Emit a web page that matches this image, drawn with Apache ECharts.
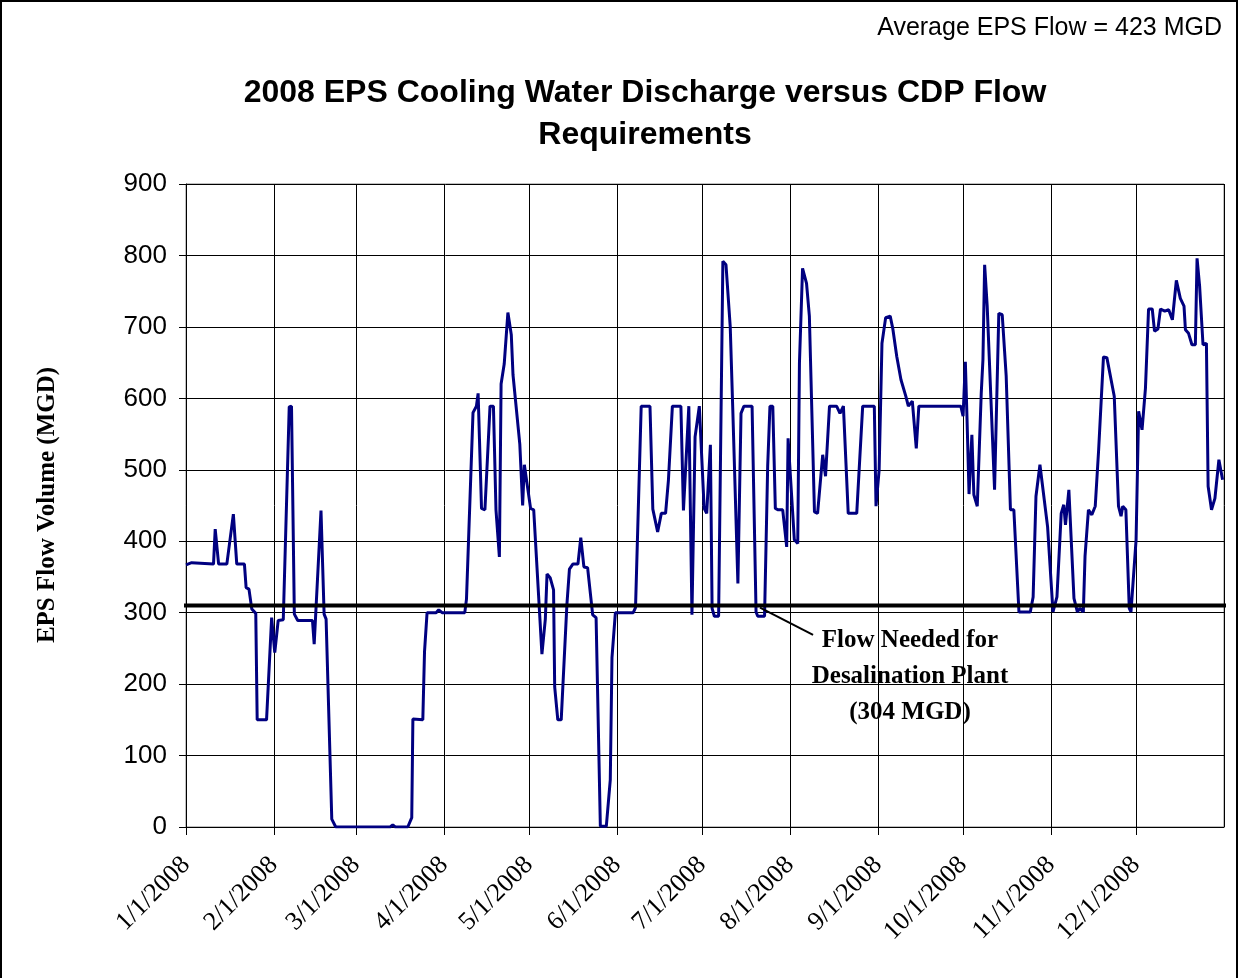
<!DOCTYPE html>
<html>
<head>
<meta charset="utf-8">
<script src="https://cdn.jsdelivr.net/npm/echarts@6/dist/echarts.min.js"></script>
<style>
  html, body { margin: 0; padding: 0; background: #fff; }
  #chart { position: absolute; left: 0; top: 0; width: 1238px; height: 978px; }
  #frame { position: absolute; left: 0; top: 0; width: 1238px; height: 978px; box-sizing: border-box;
           border: 2px solid #000; border-bottom: none; pointer-events: none; }
</style>
</head>
<body>
<div id="chart"></div>
<div id="frame"></div>
<script>
// day of year (0 = 1/1/2008) and EPS discharge in MGD
const flowDays = [
  0, 2, 9.7, 10.3, 11.5, 14.4, 16.7, 17.9, 20.6, 21.2, 22.2, 23.2, 24.6, 25.1, 28.4, 30.2,
  31.3, 32.5, 34.3, 36.4, 37.2, 38.2, 39.4, 44.6, 45.2, 47.6, 48.7, 49.4, 51.4, 52.8,
  72, 72.9, 73.8, 78.2, 79.6, 80, 83.5, 84.1, 85, 88.2, 89.1, 90.3,
  98.3, 98.9, 101.2, 102.4, 103, 104.2, 105.4, 107.2, 108.4, 109.3, 110.5, 111.1, 112.2,
  113.5, 114.7, 115.3, 117.7, 118.7, 119.3, 121.5, 122.6,
  125.5, 126.7, 127.3, 128.4, 129.6, 130, 131.1, 132.3, 134.3, 135.2, 136.4, 138.2, 139.2,
  140.3, 141.6, 143.4, 144.6, 146.1, 148.2, 149.6, 150.2, 151.4,
  157.7, 158.5, 160.5, 163.6, 164.6, 165.3, 166.3, 167.6, 169.1, 170.1, 171.5, 174.5, 175.4,
  177.3, 178.4, 179.5, 181,
  182.7, 183.6, 184.9, 185.5, 186.3, 187.8, 189.3, 190.4, 191.9, 192.8, 194.6, 195.7, 196.7,
  199.6, 201, 201.6, 204, 205.1, 205.9, 206.9, 207.8, 208.8, 210.4, 211.8, 212.3,
  214.5, 215.7, 216.3, 217.4, 218.8, 219.8, 221.6, 222.7, 224.5, 225.5, 226.9, 228, 229.4,
  230.6, 231.8, 233.5, 236.5, 238.6, 242.7, 243.3,
  244.4, 245.4, 246.7, 248.3, 249.2, 250.6, 252.1, 253.8, 254.7, 256.1, 257.5, 258.4, 273.2,
  274, 274.8, 275.4, 276.1, 277.1, 277.8, 279, 280.4, 281, 281.6, 282.5, 285.1, 286.6, 287.8,
  289.2, 290.7, 291.9, 293.7, 297.7, 298.7, 299.7, 301.1, 301.7, 303.8,
  305.7, 307.1, 308.6, 309.5, 310.1, 311.3, 313.1, 314.3, 315.2, 316.4, 317, 318.2, 319.4,
  320.6, 321.8, 323.5, 324.7, 327.3, 328.8, 329.7, 330.3, 331.4, 332.6, 333.2,
  335, 335.9, 337.1, 338.3, 339.4, 340.7, 341.5, 342.7, 343.6, 345.1, 346.5, 347.8, 349.2,
  350.6, 351.9, 352.4, 353.5, 354.7, 355.9, 356.5, 357.4, 358.6, 359.8, 360.4, 361.6, 362.8,
  364.2, 365.5
];
const flowValues = [
  367, 370, 368, 417, 368, 368, 438, 368, 368, 335, 333, 305, 299, 150, 150, 293,
  244, 289, 290, 588, 589, 298, 289, 289, 256, 443, 298, 291, 11, 0,
  0, 3, 0, 0, 13, 151, 150, 245, 300, 300, 304, 300,
  300, 319, 580, 589, 607, 446, 444, 589, 589, 444, 378, 620, 648,
  720, 689, 633, 536, 450, 507, 446, 444,
  242, 291, 354, 349, 332, 196, 150, 150, 311, 361, 368, 368, 405,
  364, 363, 297, 293, 1, 1, 66, 237, 300,
  300, 307, 589, 589, 445, 443, 413, 439, 439, 485, 589, 589, 443,
  589, 297, 546, 589,
  446, 439, 535, 306, 295, 295, 792, 787, 700, 584, 341, 579, 589,
  589, 301, 295, 295, 505, 589, 589, 446, 444, 444, 392, 544,
  402, 397, 649, 782, 761, 715, 441, 439, 521, 491, 589, 589, 589,
  579, 589, 439, 439, 589, 589, 449,
  500, 677, 713, 715, 698, 659, 626, 603, 589, 596, 530, 589, 589,
  575, 651, 570, 466, 549, 465, 449, 607, 654, 787, 729, 472, 719, 717,
  631, 444, 444, 301, 301, 322, 463, 507, 505, 420,
  301, 322, 439, 451, 423, 472, 320, 301, 306, 301, 379, 444, 437,
  449, 528, 658, 657, 603, 449, 435, 449, 444, 306, 301,
  402, 582, 556, 614, 725, 725, 694, 697, 725, 722, 724, 710, 765,
  740, 729, 696, 691, 675, 675, 796, 757, 675, 677, 477, 444, 460,
  514, 486
];

// drawn "flow needed" line (extends a little past the plot on both sides)
const needDays = [-7.4, 371];
const needFlows = [310, 310];

// callout leader line
const calloutDays = [202.4, 221.1];
const calloutFlows = [307, 269];

const DAY = 86400000;
const start = new Date(2008, 0, 1).getTime();
const end = new Date(2009, 0, 1).getTime();
const toPairs = (days, vals) => days.map((d, i) => [start + d * DAY, vals[i]]);

const sans = '"Liberation Sans", Arial, sans-serif';
const serif = '"Liberation Serif", "Times New Roman", serif';

const chart = echarts.init(document.getElementById('chart'), null, { renderer: 'canvas' });

chart.setOption({
  animation: false,
  backgroundColor: '#fff',
  grid: { left: 186, top: 184, width: 1038, height: 643, show: true, borderColor: '#808080', borderWidth: 1 },
  xAxis: {
    type: 'time',
    min: start,
    max: end,
    splitNumber: 12,
    minInterval: 28 * DAY,
    maxInterval: 31 * DAY,
    axisLine: { lineStyle: { color: '#000', width: 1 } },
    axisTick: { show: true, length: 8, lineStyle: { color: '#000' } },
    splitLine: { show: true, lineStyle: { color: '#000', width: 1 } },
    minorTick: { show: false },
    axisLabel: {
      rotate: 45,
      margin: 34,
      showMaxLabel: false,
      color: '#000',
      fontFamily: serif,
      fontSize: 26,
      formatter: v => {
        const d = new Date(v);
        return (d.getMonth() + 1) + '/' + d.getDate() + '/' + d.getFullYear();
      }
    }
  },
  yAxis: {
    type: 'value',
    min: 0,
    max: 900,
    interval: 100,
    axisLine: { show: true, lineStyle: { color: '#000', width: 1 } },
    axisTick: { show: true, length: 7, lineStyle: { color: '#000' } },
    splitLine: { show: true, lineStyle: { color: '#000', width: 1 } },
    axisLabel: { color: '#000', fontFamily: sans, fontSize: 26, margin: 19 }
  },
  series: [
    {
      name: 'EPS Flow',
      type: 'line',
      data: toPairs(flowDays, flowValues),
      showSymbol: false,
      symbol: 'none',
      lineStyle: { color: '#000080', width: 3 },
      z: 3
    },
    {
      name: 'Flow Needed',
      type: 'line',
      data: toPairs(needDays, needFlows),
      clip: false,
      symbol: 'none',
      lineStyle: { color: '#000', width: 4 },
      z: 4
    },
    {
      name: 'Callout',
      type: 'line',
      data: toPairs(calloutDays, calloutFlows),
      clip: false,
      symbol: 'none',
      lineStyle: { color: '#000', width: 2 },
      z: 4
    }
  ],
  graphic: [
    {
      type: 'text', x: 1222, y: 28,
      style: { text: 'Average EPS Flow = 423 MGD', align: 'right', verticalAlign: 'middle',
               font: '25px ' + sans, fill: '#000' }
    },
    {
      type: 'text', x: 645, y: 114,
      style: { text: '2008 EPS Cooling Water Discharge versus CDP Flow\nRequirements',
               align: 'center', verticalAlign: 'middle', lineHeight: 42,
               font: 'bold 32px ' + sans, fill: '#000' }
    },
    {
      type: 'text', x: 48, y: 505, rotation: Math.PI / 2,
      style: { text: 'EPS Flow Volume (MGD)', align: 'center', verticalAlign: 'middle',
               font: 'bold 25px ' + serif, fill: '#000' }
    },
    {
      type: 'text', x: 910, y: 677, z: 10,
      style: { text: 'Flow Needed for\nDesalination Plant\n(304 MGD)', align: 'center',
               verticalAlign: 'middle', lineHeight: 36,
               font: 'bold 25px ' + serif, fill: '#000' }
    }
  ]
});
</script>
</body>
</html>
